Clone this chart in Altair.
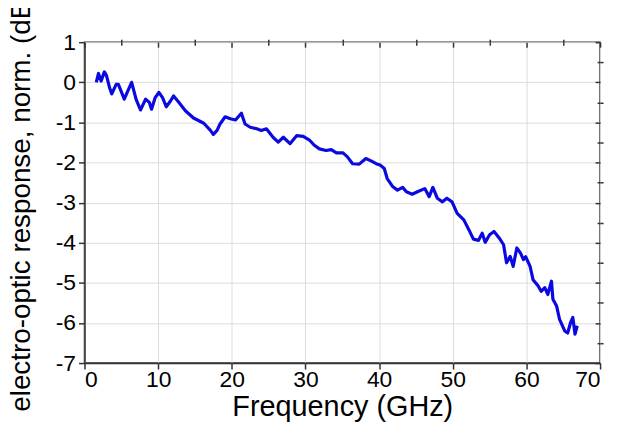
import altair as alt
import pandas as pd

freq = [1.6, 1.9, 2.25, 2.7, 3.0, 3.4, 3.7, 4.3, 4.6, 5.4, 5.8, 6.4, 7.0, 7.6, 8.3, 8.8,
        9.1, 9.6, 10.1, 10.6, 11.1, 11.7, 12.1, 12.8, 13.7, 14.8, 16.2, 17.1, 17.5, 18.0,
        18.4, 19.1, 19.8, 20.5, 21.3, 21.8, 22.5, 23.4, 24.0, 24.7, 25.6, 26.3, 27.0, 27.9,
        28.8, 29.7, 30.6, 31.2, 31.9, 32.8, 33.5, 34.2, 35.1, 35.7, 36.4, 37.3, 38.2, 38.9,
        39.6, 40.2, 40.7, 41.1, 41.8, 42.5, 43.2, 43.7, 44.5, 45.2, 46.2, 46.8, 47.3, 47.9,
        48.6, 49.2, 49.9, 50.6, 51.5, 52.2, 52.8, 53.5, 54.0, 54.4, 55.0, 55.6, 56.3, 56.9,
        57.3, 57.8, 58.2, 58.7, 59.2, 59.6, 59.9, 60.5, 60.9, 61.6, 62.0, 62.5, 62.9, 63.4,
        63.6, 64.1, 64.5, 65.2, 65.6, 66.0, 66.3, 66.6, 66.9]
response = [0.0, 0.22, 0.03, 0.26, 0.16, -0.13, -0.29, -0.05, -0.05, -0.42, -0.25, 0.0,
            -0.42, -0.69, -0.42, -0.50, -0.67, -0.38, -0.25, -0.38, -0.61, -0.46, -0.34,
            -0.50, -0.71, -0.89, -1.02, -1.20, -1.30, -1.20, -1.04, -0.86, -0.91, -0.94,
            -0.77, -1.04, -1.12, -1.16, -1.20, -1.16, -1.37, -1.49, -1.37, -1.53, -1.33,
            -1.35, -1.45, -1.57, -1.66, -1.70, -1.68, -1.76, -1.76, -1.86, -2.03, -2.04,
            -1.90, -1.96, -2.03, -2.07, -2.15, -2.40, -2.59, -2.69, -2.62, -2.73, -2.79,
            -2.73, -2.65, -2.85, -2.62, -2.89, -2.98, -2.89, -2.98, -3.27, -3.43, -3.68,
            -3.91, -3.94, -3.76, -3.99, -3.80, -3.72, -3.88, -4.05, -4.50, -4.34, -4.59,
            -4.13, -4.26, -4.42, -4.35, -4.59, -4.92, -5.08, -5.21, -5.12, -5.29, -4.96,
            -5.41, -5.58, -5.91, -6.20, -6.25, -5.99, -5.86, -6.28, -6.07]

x_major = [0, 10, 20, 30, 40, 50, 60, 70]
x_minor = [5, 15, 25, 35, 45, 55, 65]
y_major = [-7, -6, -5, -4, -3, -2, -1, 0, 1]
y_minor = [-6.5, -5.5, -4.5, -3.5, -2.5, -1.5, -0.5, 0.5]

df = pd.DataFrame({"f": freq, "db": response})

FONT = "Liberation Sans"
xs = alt.Scale(domain=[0, 70], nice=False, zero=False)
ys = alt.Scale(domain=[-7, 1], nice=False, zero=False)
HYPHEN = "replace(format(datum.value, 'd'), '\u2212', '-')"

base = alt.Chart(df)

main = base.mark_line(color="#0a0ae0", strokeWidth=3.2, strokeJoin="round").encode(
    x=alt.X("f:Q", scale=xs, axis=alt.Axis(
        values=x_major, grid=True, tickSize=6, labelPadding=0, labelFontSize=23,
        labelFont=FONT, labelColor="black", labelExpr=HYPHEN,
        title="Frequency (GHz)", titleFont=FONT,
        titleFontSize=29, titleFontWeight="normal", titleColor="black",
        titleBaseline="alphabetic", titleY=53, titleX=259.5)),
    y=alt.Y("db:Q", scale=ys, axis=alt.Axis(
        values=y_major, grid=True, tickSize=6, labelPadding=3, labelFontSize=23,
        labelFont=FONT, labelColor="black", labelExpr=HYPHEN,
        title="electro-optic response, norm. (dB)",
        titleFont=FONT, titleFontSize=28, titleFontWeight="normal", titleColor="black",
        titleBaseline="alphabetic", titleX=-55, titleY=160, titleAngle=270)),
)

minor = base.mark_line(opacity=0).encode(
    x=alt.X("f:Q", scale=xs, axis=alt.Axis(
        values=x_minor, grid=False, tickSize=3, labels=False, domain=False, title=None)),
    y=alt.Y("db:Q", scale=ys, axis=alt.Axis(
        values=y_minor, grid=False, tickSize=3, labels=False, domain=False, title=None)),
)

mirror_major = base.mark_line(opacity=0).encode(
    x=alt.X("f:Q", scale=xs, axis=alt.Axis(
        orient="top", offset=-5, values=x_major, grid=False, tickSize=5, labels=False,
        domain=False, title=None)),
    y=alt.Y("db:Q", scale=ys, axis=alt.Axis(
        orient="right", offset=-5, values=y_major, grid=False, tickSize=5, labels=False,
        domain=False, title=None)),
)

mirror_minor = base.mark_line(opacity=0).encode(
    x=alt.X("f:Q", scale=xs, axis=alt.Axis(
        orient="top", offset=-3, values=x_minor, grid=False, tickSize=3, labels=False,
        domain=False, title=None)),
    y=alt.Y("db:Q", scale=ys, axis=alt.Axis(
        orient="right", offset=-3, values=y_minor, grid=False, tickSize=3, labels=False,
        domain=False, title=None)),
)

chart = alt.layer(main, minor, mirror_major, mirror_minor).resolve_axis(
    x="independent", y="independent"
).properties(
    width=519, height=323, autosize="none",
    padding={"left": 77, "top": 33, "right": 10, "bottom": 72},
    background="white",
).configure_view(
    stroke="#333333", strokeWidth=1.5
).configure_axis(
    domainColor="#333333", domainWidth=1.5, tickColor="#333333", tickWidth=1.5,
    gridColor="#dddddd", gridWidth=1,
)

chart.save("out.html", embed_options={"renderer": "svg", "actions": False})
